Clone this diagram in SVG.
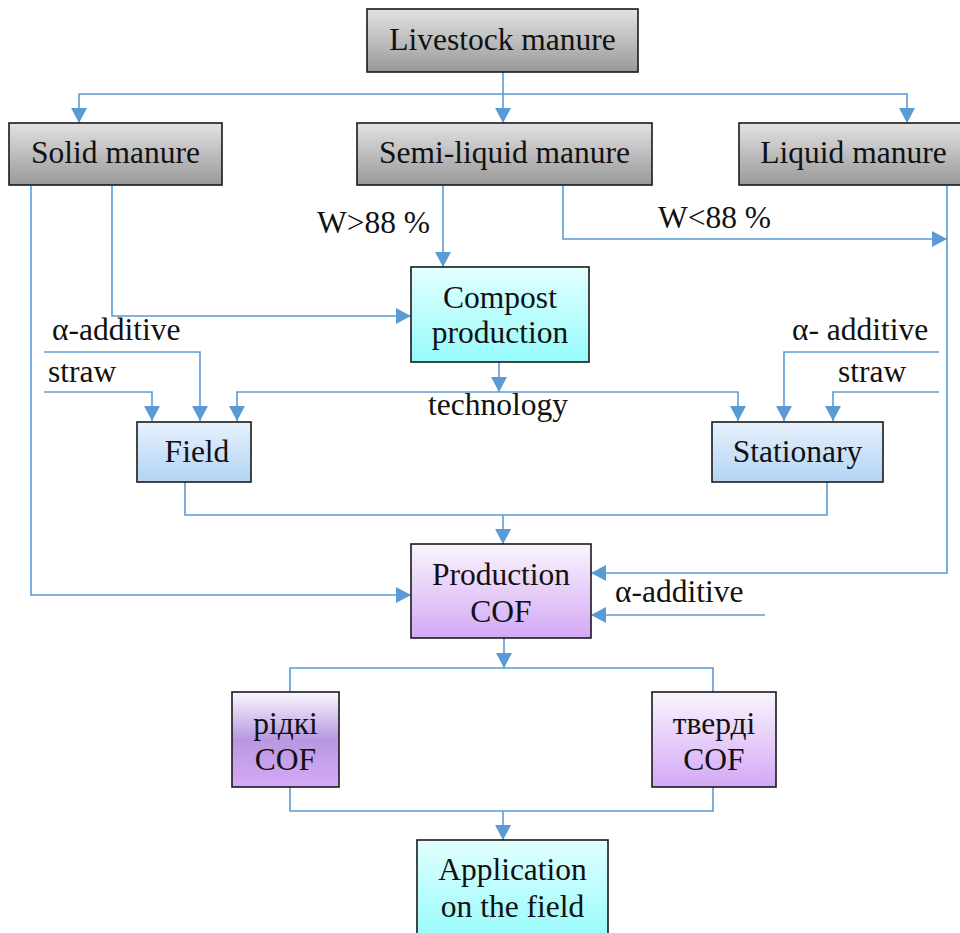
<svg xmlns="http://www.w3.org/2000/svg" width="960" height="933" viewBox="0 0 960 933">
<style>
.box{stroke:#1a1a1a;stroke-width:1.6}
.t{font-family:"Liberation Serif","Times New Roman",serif;font-size:31.5px;fill:#111;text-anchor:middle}
.l{font-family:"Liberation Serif","Times New Roman",serif;font-size:31.5px;fill:#111}
.c{fill:none;stroke:#5b9bd5;stroke-width:1.6}
</style>
<defs>
<linearGradient id="grey" x1="0" y1="0" x2="0" y2="1"><stop offset="0" stop-color="#e2e2e2"/><stop offset="1" stop-color="#999999"/></linearGradient>
<linearGradient id="cyan" x1="0" y1="0" x2="0" y2="1"><stop offset="0" stop-color="#e2ffff"/><stop offset="1" stop-color="#96fbfb"/></linearGradient>
<linearGradient id="blue" x1="0" y1="0" x2="0" y2="1"><stop offset="0" stop-color="#e8f2fc"/><stop offset="1" stop-color="#b2d4f5"/></linearGradient>
<linearGradient id="purple" x1="0" y1="0" x2="0" y2="1"><stop offset="0" stop-color="#f9f5fc"/><stop offset="1" stop-color="#d3a8f6"/></linearGradient>
<linearGradient id="purple3" x1="0" y1="0" x2="0" y2="1"><stop offset="0" stop-color="#fbf8fe"/><stop offset="0.5" stop-color="#b898e0"/><stop offset="1" stop-color="#d6a9f8"/></linearGradient>
<marker id="ah" viewBox="0 0 15 16" refX="15" refY="8" markerWidth="15" markerHeight="16" markerUnits="userSpaceOnUse" orient="auto"><path d="M0,0 L15,8 L0,16 z" fill="#5b9bd5"/></marker>
</defs>
<g id="connectors">
<path class="c" d="M503,72 V123" marker-end="url(#ah)"/>
<path class="c" d="M503,94 H79 V123" marker-end="url(#ah)"/>
<path class="c" d="M503,94 H907 V123" marker-end="url(#ah)"/>
<path class="c" d="M443,186 V267" marker-end="url(#ah)"/>
<path class="c" d="M563,186 V239 H947" marker-end="url(#ah)"/>
<path class="c" d="M947,186 V573 H591" marker-end="url(#ah)"/>
<path class="c" d="M112,186 V316 H411" marker-end="url(#ah)"/>
<path class="c" d="M31,186 V595 H411" marker-end="url(#ah)"/>
<path class="c" d="M499,362 V392" marker-end="url(#ah)"/>
<path class="c" d="M499,392 H237 V421" marker-end="url(#ah)"/>
<path class="c" d="M499,392 H738 V421" marker-end="url(#ah)"/>
<path class="c" d="M44,352 H200 V421" marker-end="url(#ah)"/>
<path class="c" d="M44,392 H152 V421" marker-end="url(#ah)"/>
<path class="c" d="M939,352 H784 V421" marker-end="url(#ah)"/>
<path class="c" d="M939,392 H833 V421" marker-end="url(#ah)"/>
<path class="c" d="M185,482 V515 H827 V482"/>
<path class="c" d="M503,515 V544" marker-end="url(#ah)"/>
<path class="c" d="M765,615 H591" marker-end="url(#ah)"/>
<path class="c" d="M504,638 V668" marker-end="url(#ah)"/>
<path class="c" d="M290,692 V668 H713 V692"/>
<path class="c" d="M290,787 V811 H713 V787"/>
<path class="c" d="M503,811 V840" marker-end="url(#ah)"/>
</g>
<g id="labels">
<text class="l" x="317" y="233">W&gt;88 %</text>
<text class="l" x="658" y="228">W&lt;88 %</text>
<text class="l" x="52" y="340">α-additive</text>
<text class="l" x="48" y="382">straw</text>
<text class="l" x="792" y="340">α- additive</text>
<text class="l" x="838" y="382">straw</text>
<text class="t" x="498" y="415">technology</text>
<text class="l" x="615" y="602">α-additive</text>
</g>
<g id="livestock"><rect class="box" x="367" y="9" width="271" height="63" fill="url(#grey)"/><text class="t" x="502.5" y="50">Livestock manure</text></g>
<g id="solid"><rect class="box" x="9" y="123" width="213" height="62" fill="url(#grey)"/><text class="t" x="115.5" y="163">Solid manure</text></g>
<g id="semi"><rect class="box" x="357" y="123" width="295" height="62" fill="url(#grey)"/><text class="t" x="504.5" y="163">Semi-liquid manure</text></g>
<g id="liquid"><rect class="box" x="739" y="123" width="229" height="62" fill="url(#grey)"/><text class="t" x="853.5" y="163">Liquid manure</text></g>
<g id="compost"><rect class="box" x="411" y="267" width="178" height="95" fill="url(#cyan)"/><text class="t" x="500" y="308">Compost</text><text class="t" x="500" y="343">production</text></g>
<g id="field"><rect class="box" x="137" y="422" width="114" height="60" fill="url(#blue)"/><text class="t" x="197" y="462">Field</text></g>
<g id="stationary"><rect class="box" x="712" y="422" width="171" height="60" fill="url(#blue)"/><text class="t" x="797.5" y="462">Stationary</text></g>
<g id="production"><rect class="box" x="411" y="544" width="180" height="94" fill="url(#purple)"/><text class="t" x="501" y="585">Production</text><text class="t" x="501" y="622">COF</text></g>
<g id="ridki"><rect class="box" x="232" y="692" width="107" height="95" fill="url(#purple3)"/><text class="t" x="285.5" y="734">рідкі</text><text class="t" x="285.5" y="770">COF</text></g>
<g id="tverdi"><rect class="box" x="652" y="692" width="124" height="95" fill="url(#purple)"/><text class="t" x="714" y="734">тверді</text><text class="t" x="714" y="770">COF</text></g>
<g id="application"><rect class="box" x="417" y="840" width="191" height="100" fill="url(#cyan)"/><text class="t" x="512.5" y="880">Application</text><text class="t" x="512.5" y="917">on the field</text></g>
</svg>
